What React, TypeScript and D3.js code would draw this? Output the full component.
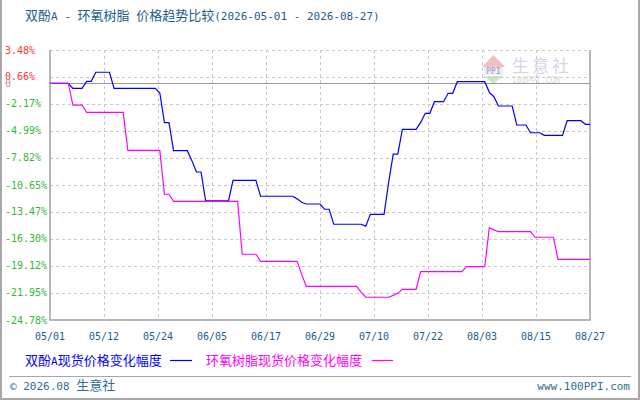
import React, { useEffect, useRef } from 'react';
import * as d3 from 'd3';

const width = 640;
const height = 400;
const margin = { top: 50, right: 50, bottom: 80, left: 50 };

const titleText = '双酚A - 环氧树脂 价格趋势比较(2026-05-01 - 2026-08-27)';
const seriesNames = ['双酚A现货价格变化幅度', '环氧树脂现货价格变化幅度'];
const seriesColors = ['#0000ff', '#ff00ff'];

const xTickLabels = ['05/01', '05/12', '05/24', '06/05', '06/17', '06/29', '07/10', '07/22', '08/03', '08/15', '08/27'];
const yTicks = [3.48, 0.66, -2.17, -4.99, -7.82, -10.65, -13.47, -16.3, -19.12, -21.95, -24.78];

// [date, change %]
const bpaSeries: [string, number][] = [
  ['2026-05-01', 0], ['2026-05-05', 0], ['2026-05-06', -0.53], ['2026-05-08', -0.53],
  ['2026-05-09', 0.2], ['2026-05-10', 0.2], ['2026-05-11', 1.15], ['2026-05-14', 1.15],
  ['2026-05-15', -0.53], ['2026-05-24', -0.53], ['2026-05-25', -1.02], ['2026-05-26', -4.13],
  ['2026-05-27', -4.13], ['2026-05-28', -7.06], ['2026-05-31', -7.06], ['2026-06-01', -8.1],
  ['2026-06-02', -9.29], ['2026-06-03', -9.29], ['2026-06-04', -12.29], ['2026-06-09', -12.32],
  ['2026-06-10', -10.16], ['2026-06-15', -10.16], ['2026-06-16', -11.83], ['2026-06-23', -11.83],
  ['2026-06-24', -12.1], ['2026-06-25', -12.45], ['2026-06-26', -12.64], ['2026-06-29', -12.64],
  ['2026-06-30', -13.19], ['2026-07-01', -13.19], ['2026-07-02', -14.76], ['2026-07-08', -14.76],
  ['2026-07-09', -14.96], ['2026-07-10', -13.72], ['2026-07-13', -13.72], ['2026-07-14', -10.37],
  ['2026-07-15', -7.41], ['2026-07-16', -7.41], ['2026-07-17', -4.82], ['2026-07-20', -4.82],
  ['2026-07-21', -4.1], ['2026-07-22', -3.15], ['2026-07-23', -3.15], ['2026-07-24', -1.93],
  ['2026-07-26', -1.93], ['2026-07-27', -1.05], ['2026-07-28', -1.05], ['2026-07-29', 0.16],
  ['2026-08-04', 0.16], ['2026-08-05', -0.95], ['2026-08-06', -1.41], ['2026-08-07', -2.38],
  ['2026-08-10', -2.38], ['2026-08-11', -4.37], ['2026-08-13', -4.37], ['2026-08-14', -5.18],
  ['2026-08-16', -5.18], ['2026-08-17', -5.45], ['2026-08-21', -5.45], ['2026-08-22', -3.92],
  ['2026-08-25', -3.92], ['2026-08-26', -4.3], ['2026-08-27', -4.3],
];

const epoxySeries: [string, number][] = [
  ['2026-05-01', 0], ['2026-05-05', 0], ['2026-05-06', -2.28], ['2026-05-08', -2.28],
  ['2026-05-09', -3.04], ['2026-05-17', -3.04], ['2026-05-18', -7.02], ['2026-05-25', -7.02],
  ['2026-05-26', -11.62], ['2026-05-27', -11.62], ['2026-05-28', -12.36], ['2026-06-11', -12.36],
  ['2026-06-12', -17.9], ['2026-06-15', -17.9], ['2026-06-16', -18.64], ['2026-06-24', -18.64],
  ['2026-06-25', -20.0], ['2026-06-26', -21.27], ['2026-07-07', -21.27], ['2026-07-08', -21.9],
  ['2026-07-09', -22.4], ['2026-07-14', -22.4], ['2026-07-15', -22.2], ['2026-07-16', -21.99],
  ['2026-07-17', -21.57], ['2026-07-20', -21.57], ['2026-07-21', -19.72], ['2026-07-30', -19.72],
  ['2026-07-31', -19.2], ['2026-08-04', -19.2], ['2026-08-05', -15.12], ['2026-08-06', -15.35],
  ['2026-08-07', -15.54], ['2026-08-14', -15.54], ['2026-08-15', -16.12], ['2026-08-19', -16.12],
  ['2026-08-20', -18.43], ['2026-08-27', -18.43],
];

const MONO = "'DejaVu Sans Mono', 'Liberation Mono', monospace";
const CJK = "'Noto Sans CJK SC', sans-serif";

// split a label into CJK / latin runs so each gets its own font size
function mixedText(
  sel: d3.Selection<SVGTextElement, unknown, null, undefined>,
  str: string,
  cjkSize: number,
  latinSize: number,
) {
  const runs = str.match(/[\u2E80-\u9FFF\uFF00-\uFFEF]+|[^\u2E80-\u9FFF\uFF00-\uFFEF]+/g) || [];
  sel.style('white-space', 'pre');
  runs.forEach(r => {
    const cjk = /[\u2E80-\u9FFF\uFF00-\uFFEF]/.test(r);
    sel.append('tspan')
      .attr('font-family', cjk ? CJK : MONO)
      .attr('font-size', cjk ? cjkSize : latinSize)
      .text(r);
  });
  return sel;
}

export default function App() {
  const svgRef = useRef<SVGSVGElement>(null);

  useEffect(() => {
    if (!svgRef.current) return;
    const svg = d3.select(svgRef.current);
    svg.selectAll('*').remove();

    const x0 = margin.left;
    const x1 = width - margin.right;
    const y0 = margin.top;
    const y1 = height - margin.bottom;

    const parse = d3.timeParse('%Y-%m-%d');
    const xScale = d3.scaleTime()
      .domain([parse(bpaSeries[0][0])!, parse(bpaSeries[bpaSeries.length - 1][0])!])
      .range([x0, x1]);
    const tickScale = d3.scalePoint<string>().domain(xTickLabels).range([x0, x1]);
    const yScale = d3.scaleLinear()
      .domain([yTicks[yTicks.length - 1], yTicks[0]])
      .range([y1, y0]);

    svg.append('rect')
      .attr('width', width).attr('height', height)
      .attr('fill', '#fff');

    // outer frame (left, right, bottom)
    svg.append('path')
      .attr('d', `M1,0 V${height - 1} H${width - 1} V0`)
      .attr('fill', 'none')
      .attr('stroke', '#a8a8a8')
      .attr('stroke-width', 2);

    // title
    mixedText(
      svg.append('text').attr('x', 25).attr('y', 20).attr('fill', '#1d5d8c'),
      titleText, 13, 11,
    );

    // watermark
    const wm = svg.append('g').attr('opacity', 0.75);
    wm.append('path').attr('d', 'M482,67 L493.5,55 L505,67 Z').attr('fill', '#f2a9a9');
    wm.append('rect').attr('x', 484).attr('y', 67).attr('width', 19).attr('height', 8).attr('fill', '#e8e8ee');
    wm.append('text').attr('x', 493.5).attr('y', 74).attr('text-anchor', 'middle')
      .attr('font-family', MONO).attr('font-size', 8).attr('font-weight', 'bold')
      .attr('fill', '#8a94b8').text('PPI');
    wm.append('path').attr('d', 'M484,76 L503,76 L493.5,84 Z').attr('fill', '#b5dfb5');
    wm.append('text').attr('x', 512).attr('y', 72)
      .attr('font-family', CJK).attr('font-size', 17).attr('letter-spacing', 3)
      .attr('fill', '#c3c9e2').text('生意社');
    wm.append('text').attr('x', 512).attr('y', 83)
      .attr('font-family', MONO).attr('font-size', 8)
      .attr('fill', '#cfcfcf').text('100PPI.COM');

    // grid
    const grid = svg.append('g')
      .attr('stroke', '#c8c8c8')
      .attr('stroke-dasharray', '3,3')
      .attr('shape-rendering', 'crispEdges');
    yTicks.slice(0, -1).forEach(t => {
      grid.append('line')
        .attr('x1', x0).attr('x2', x1)
        .attr('y1', Math.round(yScale(t)) + 0.5).attr('y2', Math.round(yScale(t)) + 0.5);
    });
    xTickLabels.slice(1, -1).forEach(l => {
      const xp = Math.round(tickScale(l)!) + 0.5;
      grid.append('line')
        .attr('x1', xp).attr('x2', xp)
        .attr('y1', y0).attr('y2', y1);
    });

    // zero line
    svg.append('line')
      .attr('x1', x0).attr('x2', x1)
      .attr('y1', Math.round(yScale(0)) + 0.5).attr('y2', Math.round(yScale(0)) + 0.5)
      .attr('stroke', '#999')
      .attr('shape-rendering', 'crispEdges');

    // plot frame
    svg.append('path')
      .attr('d', `M${x0},${y0} V${y1} H${x1} V${y0}`)
      .attr('fill', 'none')
      .attr('stroke', '#a0a0a0')
      .attr('stroke-width', 1.5);

    // y labels
    const yLabels = svg.append('g').attr('font-family', MONO).attr('font-size', 10);
    yTicks.forEach(t => {
      yLabels.append('text')
        .attr('x', 5)
        .attr('y', yScale(t) + 3.5)
        .attr('fill', t > 0 ? '#ff3333' : '#33b833')
        .text(`${t.toFixed(2)}%`);
    });
    yLabels.append('text')
      .attr('x', 5).attr('y', yScale(0) + 3.5)
      .attr('fill', '#999').text('0');

    // x labels
    svg.append('g')
      .attr('font-family', MONO).attr('font-size', 10)
      .attr('fill', '#1d5d8c')
      .attr('text-anchor', 'middle')
      .selectAll('text')
      .data(xTickLabels)
      .enter().append('text')
      .attr('x', d => tickScale(d)!)
      .attr('y', 340)
      .text(d => d);

    // series
    const line = d3.line<[string, number]>()
      .x(d => xScale(parse(d[0])!))
      .y(d => yScale(d[1]));

    [bpaSeries, epoxySeries].forEach((s, i) => {
      svg.append('path')
        .datum(s)
        .attr('d', line)
        .attr('fill', 'none')
        .attr('stroke', seriesColors[i])
        .attr('stroke-width', 1.2);
    });

    // legend
    const legendX = [25, 206];
    const legendLine = [[170, 192], [372, 393]];
    seriesNames.forEach((name, i) => {
      mixedText(
        svg.append('text').attr('x', legendX[i]).attr('y', 365).attr('fill', seriesColors[i]),
        name, 13, 11,
      );
      svg.append('line')
        .attr('x1', legendLine[i][0]).attr('x2', legendLine[i][1])
        .attr('y1', 360.5).attr('y2', 360.5)
        .attr('stroke', seriesColors[i])
        .attr('stroke-width', 1.2);
    });

    // footer
    svg.append('line')
      .attr('x1', 9).attr('x2', 631)
      .attr('y1', 376.5).attr('y2', 376.5)
      .attr('stroke', '#a8a8a8');
    mixedText(
      svg.append('text').attr('x', 10).attr('y', 390).attr('fill', '#2f6f95'),
      '© 2026.08 生意社', 13, 11,
    );
    svg.append('text')
      .attr('x', 630).attr('y', 390)
      .attr('text-anchor', 'end')
      .attr('font-family', MONO).attr('font-size', 11)
      .attr('fill', '#2f6f95')
      .text('www.100PPI.com');
  }, []);

  return (
    <svg
      ref={svgRef}
      width={width}
      height={height}
      viewBox={`0 0 ${width} ${height}`}
      style={{ position: 'absolute', left: 0, top: 0 }}
    />
  );
}
